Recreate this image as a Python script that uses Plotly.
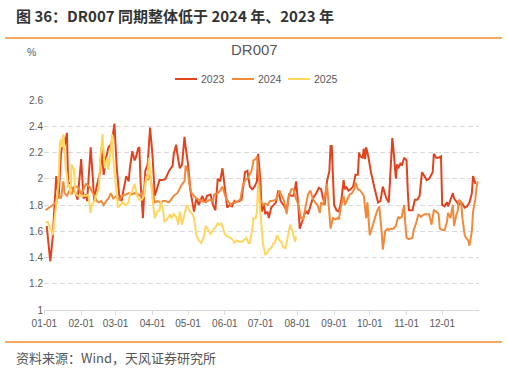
import pandas as pd
import plotly.graph_objects as go

# ---- data (day offset from Jan 1, DR007 in %) ----
days_2023 = [2,5,7,10,12,14,16,17,19,20,23,26,28,31,33,35,36,39,41,42,44,47,48,50,52,54,56,57,59,61,63,65,67,69,71,72,74,76,77,79,80,81,83,85,87,89,91,93,95,97,100,102,105,108,109,111,112,114,116,118,119,121,123,125,126,128,130,133,135,137,140,142,144,146,148,150,152,154,156,158,160,161,164,166,168,169,171,173,175,177,179,180,182,183,185,186,188,189,191,193,195,197,199,202,204,206,208,210,212,214,215,217,219,221,222,224,226,229,231,233,234,236,238,240,241,242,244,246,248,250,252,253,254,256,258,260,262,264,265,266,268,269,270,271,273,275,278,281,283,285,288,290,291,293,294,296,297,298,300,301,303,305,306,307,310,312,314,316,318,320,322,324,326,327,328,330,332,334,335,337,339,340,342,344,345,347,349,351,354,356,358,360,361,363]
dr007_2023 = [1.64,1.37,1.55,2.02,1.85,2.19,2.32,2.25,2.35,1.98,1.93,1.90,1.84,2.15,1.85,1.88,1.83,2.24,1.98,1.83,1.94,2.05,2.24,2.03,2.16,2.24,2.26,2.29,2.42,2.08,1.88,1.83,1.93,2.02,1.98,2.08,2.21,2.14,2.16,2.23,2.24,1.98,1.70,2.06,2.11,2.39,2.19,1.87,1.93,1.99,1.99,2.00,2.06,2.10,2.19,2.26,2.19,2.08,2.11,2.32,2.24,2.11,1.91,1.80,1.75,1.85,1.80,1.87,1.82,1.87,1.88,1.80,1.76,2.00,1.98,2.08,1.91,1.78,1.80,1.79,1.83,1.82,1.83,1.84,1.98,2.05,2.06,1.94,1.92,1.94,1.98,2.19,1.98,1.75,1.80,1.73,1.75,1.70,1.78,1.80,1.82,1.91,1.83,1.79,1.76,1.88,1.87,1.87,1.98,1.78,1.62,1.67,1.73,1.75,1.73,1.79,1.85,1.89,1.93,1.92,1.88,1.80,1.98,2.06,2.25,2.25,1.80,1.76,1.75,1.83,1.99,1.92,1.94,1.91,1.92,1.94,2.03,2.03,2.20,2.17,2.16,2.23,2.15,2.24,2.16,2.05,1.93,1.82,1.83,1.94,1.85,1.82,1.98,2.31,2.22,2.00,2.11,2.08,2.12,2.10,2.16,2.14,1.91,1.76,1.76,1.84,1.84,1.87,2.05,2.02,1.99,2.00,2.03,2.05,2.19,2.16,2.16,2.17,1.80,1.79,1.82,1.79,1.84,1.89,1.85,1.82,1.80,1.82,1.78,1.79,1.82,1.89,2.02,1.96]

days_2024 = [1,5,7,10,12,14,16,17,19,21,23,25,27,29,31,33,35,38,40,42,44,46,48,50,52,54,56,58,61,63,66,69,71,73,76,79,81,84,86,87,89,91,93,95,98,100,102,105,107,109,112,114,116,118,119,121,122,124,126,128,130,133,136,139,142,143,146,148,150,153,155,157,159,161,163,165,167,169,171,174,175,176,178,179,181,182,184,186,188,190,192,195,197,198,200,202,204,206,208,210,211,214,216,218,220,222,224,226,228,230,232,233,235,238,239,241,243,245,247,248,250,252,253,255,257,259,261,262,264,266,269,271,272,274,276,278,280,282,284,285,287,289,290,292,294,296,298,299,301,303,304,305,307,310,311,313,315,317,320,322,324,326,327,328,330,332,333,335,337,339,340,342,344,345,347,348,349,351,352,354,355,357,358,360,361,363,364,365]
dr007_2024 = [1.76,1.79,1.80,1.82,1.88,1.85,1.98,1.89,1.87,1.91,1.88,1.94,1.94,1.93,1.88,1.92,1.96,1.94,1.91,1.87,1.83,1.82,1.83,1.80,1.83,1.85,1.89,1.85,1.87,1.84,1.87,1.88,1.89,1.88,1.89,1.88,1.87,1.92,2.03,1.99,2.03,1.91,1.82,1.83,1.82,1.83,1.83,1.82,1.85,1.87,1.89,1.93,1.96,1.98,2.10,2.05,1.96,1.89,1.87,1.85,1.84,1.83,1.82,1.84,1.83,1.88,1.89,1.91,1.94,1.85,1.82,1.80,1.82,1.82,1.83,1.84,1.94,1.99,2.00,2.05,2.08,2.14,2.15,2.17,1.98,1.84,1.80,1.81,1.80,1.83,1.83,1.84,1.88,1.91,1.87,1.83,1.73,1.87,1.92,1.92,1.87,1.80,1.70,1.69,1.79,1.88,1.91,1.85,1.82,1.80,1.74,1.82,1.80,1.96,1.85,1.62,1.70,1.69,1.70,1.69,1.80,1.87,1.80,1.84,1.88,1.89,1.92,1.97,1.92,1.91,1.87,1.70,1.82,1.57,1.64,1.69,1.75,1.79,1.60,1.46,1.60,1.62,1.61,1.62,1.62,1.64,1.71,1.70,1.71,1.80,1.65,1.55,1.54,1.55,1.61,1.66,1.73,1.71,1.73,1.73,1.73,1.65,1.73,1.76,1.75,1.73,1.62,1.61,1.61,1.67,1.74,1.70,1.80,1.64,1.73,1.75,1.84,1.82,1.70,1.57,1.55,1.53,1.49,1.60,1.75,1.85,1.94,1.98]

days_2025 = [1,3,5,7,8,10,12,13,14,15,16,18,19,20,21,22,23,25,26,28,30,32,35,37,39,40,42,44,46,47,49,50,51,53,54,56,57,58,60,62,64,66,68,71,72,74,76,78,80,82,84,86,87,88,90,91,93,95,97,98,100,101,104,106,107,109,111,113,114,116,118,120,122,124,126,127,128,130,132,134,136,138,140,142,144,146,147,149,151,152,154,157,159,160,162,164,167,168,170,172,173,175,176,178,179,180,181,183,184,186,188,190,191,193,194,196,198,200,201,203,205,207,208,209,211,212]
dr007_2025 = [1.67,1.67,1.62,1.57,1.64,1.83,1.98,2.26,2.30,2.24,2.34,2.08,2.03,1.93,1.96,1.88,2.11,2.07,1.89,1.87,1.87,1.87,1.87,1.88,1.74,1.80,1.83,1.88,1.93,2.15,2.34,2.19,2.08,2.16,2.07,2.23,2.34,2.16,1.96,1.78,1.80,1.82,1.80,1.82,1.88,1.91,1.96,1.87,1.84,1.84,1.87,2.02,2.00,2.16,1.96,1.85,1.70,1.75,1.76,1.83,1.76,1.67,1.70,1.73,1.70,1.73,1.71,1.65,1.75,1.65,1.73,1.80,1.76,1.74,1.70,1.65,1.57,1.53,1.51,1.55,1.64,1.61,1.58,1.61,1.63,1.66,1.65,1.66,1.61,1.58,1.56,1.55,1.53,1.51,1.53,1.52,1.52,1.53,1.55,1.51,1.51,1.61,1.70,1.70,1.75,1.96,1.83,1.58,1.51,1.42,1.44,1.47,1.47,1.51,1.51,1.57,1.53,1.51,1.48,1.47,1.57,1.65,1.62,1.60,1.52,1.56]

series_names = ["2023", "2024", "2025"]
series_colors = ["#E2431F", "#F18A3B", "#FFD660"]
y_ticks = [1, 1.2, 1.4, 1.6, 1.8, 2, 2.2, 2.4, 2.6]
y_tick_labels = ["1", "1.2", "1.4", "1.6", "1.8", "2", "2.2", "2.4", "2.6"]
month_ticks = ["01-01","02-01","03-01","04-01","05-01","06-01","07-01","08-01","09-01","10-01","11-01","12-01"]

BASE = pd.Timestamp("2024-01-01")
def to_dates(days):
    return BASE + pd.to_timedelta(days, unit="D")

fig = go.Figure()
for name, days, vals, col in zip(series_names, [days_2023, days_2024, days_2025],
                                 [dr007_2023, dr007_2024, dr007_2025], series_colors):
    fig.add_trace(go.Scatter(x=to_dates(days), y=vals, mode="lines", name=name,
                             line=dict(color=col, width=2), showlegend=False))

tickvals = [pd.Timestamp("2024-" + t) for t in month_ticks]
CJK = "Noto Sans CJK SC"
LAT = "Liberation Sans, Arial"
ORANGE = "#F08C2E"

# plot area geometry (pixels) used to place decorations in paper coordinates
L, R, T, B = 44, 29, 100, 62
PW, PH = 508 - L - R, 372 - T - B
def px(x):
    return (x - L) / PW
def py(y):
    return (372 - B - y) / PH

shapes = [
    dict(type="line", xref="paper", yref="paper", x0=px(5), x1=px(502), y0=py(38), y1=py(38),
         line=dict(color=ORANGE, width=1.5)),
    dict(type="line", xref="paper", yref="paper", x0=px(5), x1=px(502), y0=py(342), y1=py(342),
         line=dict(color=ORANGE, width=1.5)),
]
annotations = [
    dict(text="<b>图 36：DR007 同期整体低于 2024 年、2023 年</b>", xref="paper", yref="paper",
         x=px(14), y=py(15), xanchor="left", yanchor="middle", showarrow=False,
         font=dict(family=CJK, size=15, color="#333333")),
    dict(text="资料来源：Wind，天风证券研究所", xref="paper", yref="paper",
         x=px(14), y=py(357), xanchor="left", yanchor="middle", showarrow=False,
         font=dict(family=CJK, size=13, color="#555555")),
    dict(text="%", xref="paper", yref="paper", x=px(31), y=py(52),
         xanchor="center", yanchor="middle", showarrow=False,
         font=dict(family=LAT, size=10.5, color="#595959")),
    dict(text="DR007", xref="paper", yref="paper", x=px(254), y=py(50),
         xanchor="center", yanchor="middle", showarrow=False,
         font=dict(family=LAT, size=15, color="#595959")),
]
# manual legend: short line + label for each series
leg_x = [175, 232, 288]
for name, col, lx in zip(series_names, series_colors, leg_x):
    shapes.append(dict(type="line", xref="paper", yref="paper", x0=px(lx), x1=px(lx + 22),
                       y0=py(79), y1=py(79), line=dict(color=col, width=2)))
    annotations.append(dict(text=name, xref="paper", yref="paper", x=px(lx + 24), y=py(79),
                            xanchor="left", yanchor="middle", showarrow=False,
                            font=dict(family=LAT, size=10.5, color="#595959")))

fig.update_layout(
    width=508, height=372,
    margin=dict(l=L, r=R, t=T, b=B, autoexpand=False),
    paper_bgcolor="white", plot_bgcolor="white",
    showlegend=False,
    xaxis=dict(type="date", range=[BASE - pd.Timedelta(days=0.3), pd.Timestamp("2025-01-01")],
               tickvals=tickvals, ticktext=month_ticks,
               showgrid=False, showline=True, linecolor="#D9D9D9", linewidth=1,
               ticks="outside", ticklen=4, tickcolor="#D9D9D9",
               tickfont=dict(family=LAT, size=10, color="#595959"), zeroline=False),
    yaxis=dict(range=[1, 2.6], tickvals=y_ticks, ticktext=y_tick_labels,
               showgrid=True, gridcolor="#D9D9D9", griddash="5px,3px", gridwidth=1,
               showline=False, zeroline=False, ticks="",
               tickfont=dict(family=LAT, size=10, color="#595959")),
    shapes=shapes,
    annotations=annotations,
)

fig.write_html("out.html", config={"displayModeBar": False},
               post_script="document.body.style.margin='0px';document.body.style.overflow='hidden';")
